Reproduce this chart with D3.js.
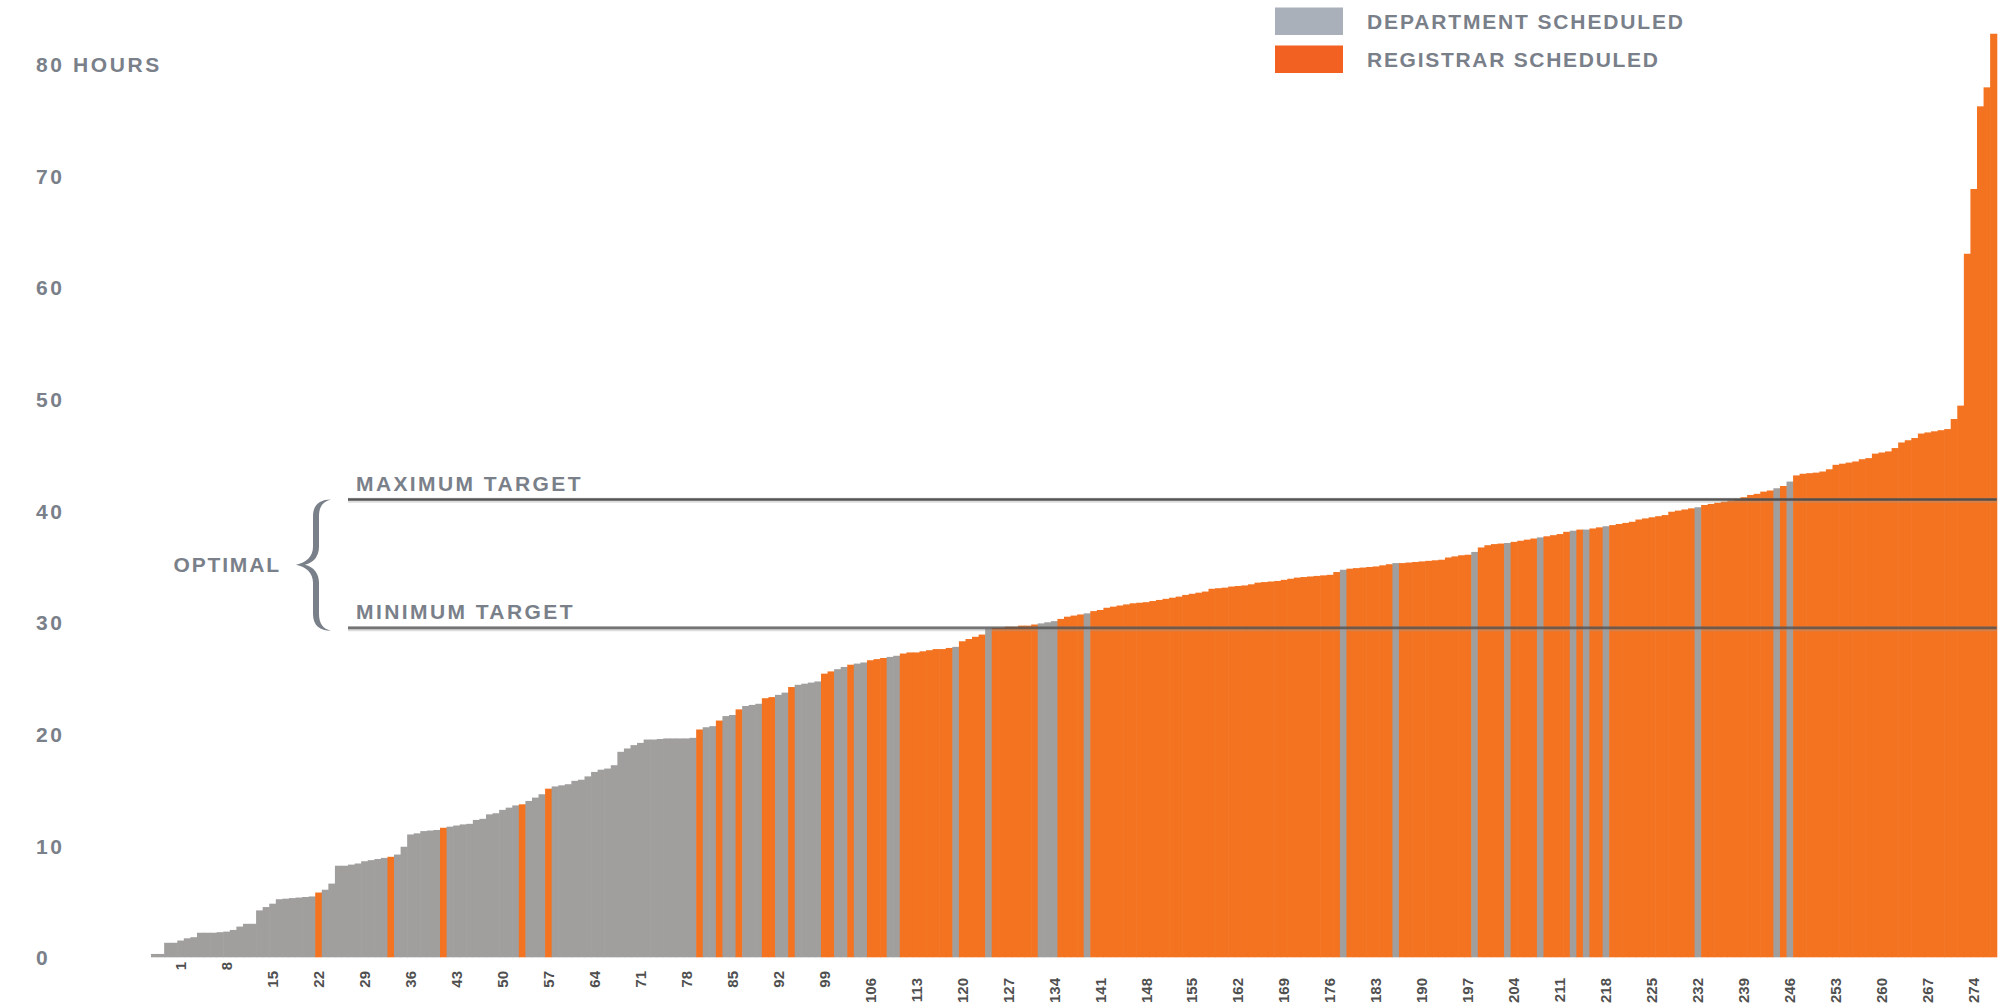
<!DOCTYPE html>
<html><head><meta charset="utf-8">
<script src="https://cdn.jsdelivr.net/npm/d3@7"></script>
<style>
html,body{margin:0;padding:0;background:#fff;}
svg{display:block;}
</style></head><body>
<svg id="chart" width="2004" height="1004"></svg>
<script>
// ---- DATA ----
// course ids (bar order); the labelled axis starts at 1, four bars precede it
const courseIds = d3.range(-3, 278);
// weekly scheduled hours per course, 10 per line (ids -3..277)
const hours = [
  0.3,0.3,1.3,1.3,1.5,1.7,1.8,2.2,2.2,2.2,
  2.25,2.3,2.45,2.75,3.0,3.0,4.2,4.5,4.8,5.2,
  5.25,5.3,5.35,5.4,5.45,5.8,6.05,6.6,8.2,8.2,
  8.3,8.4,8.6,8.7,8.8,8.9,9.0,9.2,9.9,11.0,
  11.1,11.3,11.35,11.4,11.6,11.7,11.8,11.9,11.95,12.3,
  12.4,12.8,12.9,13.2,13.4,13.6,13.7,14.0,14.3,14.6,
  15.1,15.3,15.4,15.5,15.8,15.9,16.2,16.6,16.8,16.9,
  17.2,18.4,18.7,19.0,19.2,19.5,19.5,19.55,19.6,19.6,
  19.6,19.6,19.65,20.4,20.6,20.7,21.2,21.6,21.7,22.2,
  22.5,22.6,22.7,23.2,23.3,23.5,23.7,24.2,24.4,24.5,
  24.6,24.7,25.4,25.6,25.8,26.0,26.2,26.3,26.4,26.6,
  26.7,26.8,26.9,27.0,27.2,27.3,27.3,27.4,27.5,27.6,
  27.6,27.7,27.8,28.3,28.5,28.7,28.9,29.4,29.5,29.5,
  29.6,29.6,29.7,29.7,29.8,29.9,30.0,30.1,30.3,30.5,
  30.6,30.7,30.8,31.0,31.1,31.3,31.4,31.5,31.6,31.7,
  31.75,31.8,31.9,32.0,32.1,32.2,32.3,32.45,32.55,32.65,
  32.75,33.0,33.05,33.1,33.2,33.25,33.3,33.4,33.55,33.6,
  33.65,33.7,33.8,33.9,34.0,34.05,34.1,34.15,34.2,34.25,
  34.5,34.7,34.8,34.85,34.9,34.95,35.0,35.1,35.2,35.3,
  35.3,35.35,35.4,35.45,35.5,35.55,35.6,35.8,35.9,36.0,
  36.05,36.3,36.7,36.9,37.0,37.05,37.1,37.2,37.3,37.4,
  37.5,37.6,37.7,37.8,37.9,38.1,38.2,38.3,38.3,38.4,
  38.5,38.6,38.7,38.8,38.9,39.0,39.2,39.3,39.4,39.5,
  39.6,39.9,40.0,40.1,40.2,40.3,40.5,40.6,40.7,40.8,
  40.9,41.0,41.2,41.4,41.5,41.7,41.8,42.0,42.2,42.6,
  43.15,43.3,43.35,43.4,43.5,43.7,44.1,44.2,44.3,44.4,
  44.6,44.7,45.1,45.2,45.3,45.6,46.1,46.3,46.5,46.9,
  47.0,47.1,47.2,47.3,48.2,49.4,63.0,68.8,76.2,77.9,
  82.7
];
// who scheduled each course: D = department, R = registrar (same order)
const scheduler = [
  "DDDDDDDDDD","DDDDDDDDDD","DDDDDRDDDD","DDDDDDRDDD","DDDDRDDDDD",
  "DDDDDDRDDD","RDDDDDDDDD","DDDDDDDDDD","DDDRDDRDDR","DDDRRDDRDD",
  "DDRRDDRDDR","RRDDRRRRRR","RRDRRRRDRR","RRRRRDDDRR","RRDRRRRRRR",
  "RRRRRRRRRR","RRRRRRRRRR","RRRRRRRRRR","RDRRRRRRRD","RRRRRRRRRR",
  "RDRRRRDRRR","RDRRRRDRDR","RDRRRRRRRR","RRRRRDRRRR","RRRRRRRDRD",
  "RRRRRRRRRR","RRRRRRRRRR","RRRRRRRRRR","R"
].join("").split("");
const tickLabels = [1,8,15,22,29,36,43,50,57,64,71,78,85,92,99,106,113,120,127,134,
  141,148,155,162,169,176,183,190,197,204,211,218,225,232,239,246,253,260,267,274];
const yTicks = [0,10,20,30,40,50,60,70,80];
const targets = [
  {label: "MAXIMUM TARGET", value: 41},
  {label: "MINIMUM TARGET", value: 29.5}
];
const legendItems = [
  {key: "D", label: "DEPARTMENT SCHEDULED"},
  {key: "R", label: "REGISTRAR SCHEDULED"}
];

// ---- CHART ----
const svg = d3.select("#chart");
const FONT = "'Liberation Sans', Arial, Helvetica, sans-serif";
const TXT = "#7a8089";

const x = d3.scaleBand().domain(courseIds).range([151, 1996.7]).padding(0);
const y = d3.scaleLinear().domain([0, 80]).range([957.3, 63.9]);
const barColor = d3.scaleOrdinal().domain(["D","R"]).range(["#a19e9e","#f37321"]);
const legendColor = d3.scaleOrdinal().domain(["D","R"]).range(["#a9b0b9","#f26122"]);

const bars = courseIds.map((id, i) => ({id, hours: hours[i], by: scheduler[i]}));

svg.append("g").selectAll("rect").data(bars).join("rect")
  .attr("x", d => x(d.id))
  .attr("y", d => y(d.hours))
  .attr("width", x.bandwidth() + 0.6)
  .attr("height", d => y(0) - y(d.hours))
  .attr("fill", d => barColor(d.by));

// target lines
const lineX0 = 348, lineX1 = 1996.7;
const tg = svg.append("g");
targets.forEach((t, i) => {
  const yy = y(t.value);
  tg.append("line").attr("x1", lineX0).attr("x2", lineX1).attr("y1", yy + 0.8).attr("y2", yy + 0.8)
    .attr("stroke", "#9a9a9a").attr("stroke-width", 5).attr("stroke-opacity", 0.35);
  tg.append("line").attr("x1", lineX0).attr("x2", lineX1).attr("y1", yy).attr("y2", yy)
    .attr("stroke", "#474747").attr("stroke-width", 2.6).attr("stroke-opacity", i === 0 ? 0.9 : 0.7);
  tg.append("text").attr("x", 356).attr("y", yy - 16).attr("dy", "0.36em")
    .attr("font-family", FONT).attr("font-weight", "bold").attr("font-size", 21)
    .attr("fill", TXT).attr("textLength", i === 0 ? 224.5 : 216.5).attr("lengthAdjust", "spacing")
    .text(t.label);
});

// brace + OPTIMAL
const yTop = y(targets[0].value), yBot = y(targets[1].value);
const yMid = (yTop + yBot) / 2 + 1;
const bx = 313, bw = 6, tipX = 296, endX = 331;
const t0 = yTop, t1 = yBot + 3;
const bracePath = `M ${endX} ${t0}
 C ${endX-11} ${t0}, ${bx} ${t0+5}, ${bx} ${t0+17}
 L ${bx} ${yMid-18}
 C ${bx} ${yMid-8}, ${bx-7} ${yMid-2}, ${tipX} ${yMid}
 C ${bx-7} ${yMid+2}, ${bx} ${yMid+8}, ${bx} ${yMid+18}
 L ${bx} ${t1-17}
 C ${bx} ${t1-5}, ${endX-11} ${t1}, ${endX} ${t1}
 C ${endX-8} ${t1-2}, ${bx+bw} ${t1-7}, ${bx+bw} ${t1-17}
 L ${bx+bw} ${yMid+18}
 C ${bx+bw} ${yMid+9}, ${bx+1} ${yMid+2}, ${tipX+9} ${yMid}
 C ${bx+1} ${yMid-2}, ${bx+bw} ${yMid-9}, ${bx+bw} ${yMid-18}
 L ${bx+bw} ${t0+17}
 C ${bx+bw} ${t0+7}, ${endX-8} ${t0+2}, ${endX} ${t0} Z`;
svg.append("path").attr("d", bracePath).attr("fill", TXT);
svg.append("text").attr("x", 173.5).attr("y", yMid).attr("dy", "0.36em")
  .attr("font-family", FONT).attr("font-weight", "bold").attr("font-size", 21)
  .attr("fill", TXT).attr("textLength", 105.5).attr("lengthAdjust", "spacing")
  .text("OPTIMAL");

// y axis (labels only)
const gy = svg.append("g").call(
  d3.axisLeft(y).tickValues(yTicks).tickSize(0).tickFormat(d => d === 80 ? "80 HOURS" : String(d))
);
gy.select(".domain").remove();
gy.selectAll(".tick text")
  .attr("x", 36).attr("dy", "0.36em").attr("text-anchor", "start")
  .attr("font-family", FONT).attr("font-weight", "bold").attr("font-size", 21)
  .attr("letter-spacing", "2.6px").attr("fill", TXT);

// x axis (rotated labels)
const labelTop = d => [962, 971, 978][String(d).length - 1];
const gx = svg.append("g").call(d3.axisBottom(x).tickValues(tickLabels).tickSize(0));
gx.select(".domain").remove();
gx.selectAll(".tick text")
  .attr("x", 0).attr("y", 0).attr("dy", "0.36em")
  .attr("transform", d => `translate(0,${labelTop(d)}) rotate(-90)`)
  .attr("text-anchor", "end")
  .attr("font-family", FONT).attr("font-weight", "bold").attr("font-size", 15)
  .attr("fill", "#4f4f4f");

// legend
const lg = svg.append("g").selectAll("g").data(legendItems).join("g")
  .attr("transform", (d, i) => `translate(1275, ${7.5 + i * 38})`);
lg.append("rect").attr("width", 68).attr("height", 27.5).attr("fill", d => legendColor(d.key));
lg.append("text").attr("x", 92).attr("y", 14).attr("dy", "0.36em")
  .attr("font-family", FONT).attr("font-weight", "bold").attr("font-size", 21)
  .attr("fill", TXT).attr("lengthAdjust", "spacing")
  .attr("textLength", (d, i) => i === 0 ? 316 : 291)
  .text(d => d.label);
</script>
</body></html>
